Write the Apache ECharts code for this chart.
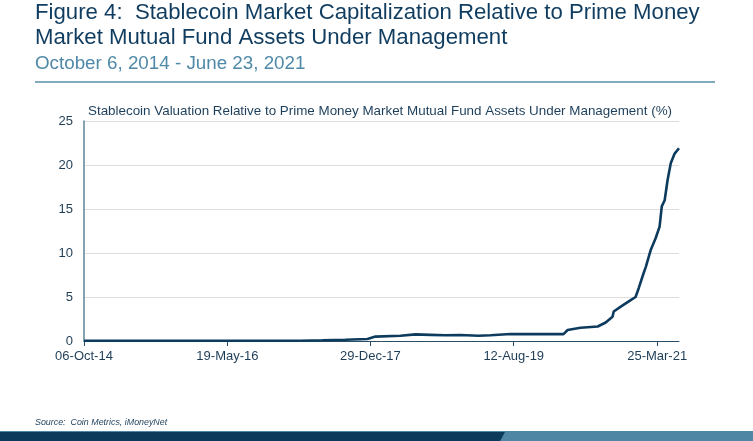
<!DOCTYPE html>
<html>
<head>
<meta charset="utf-8">
<script src="https://cdn.jsdelivr.net/npm/echarts@6/dist/echarts.min.js"></script>
<style>
html,body{margin:0;padding:0;background:#fff;}
#c{width:753px;height:441px;}
</style>
</head>
<body>
<div id="c"></div>
<script>
// Data
var dates = [
  '2014-10-06','2017-03-15','2017-06-14','2017-09-17','2017-12-17','2018-01-19',
  '2018-05-02','2018-07-03','2018-09-03','2018-11-03','2019-01-04','2019-03-20',
  '2019-05-08','2019-07-30','2020-01-11','2020-03-04','2020-03-21','2020-05-13',
  '2020-07-23','2020-08-25','2020-09-22','2020-09-27','2020-10-26','2020-12-06',
  '2020-12-26','2021-01-08','2021-01-28','2021-02-06','2021-02-26','2021-03-19',
  '2021-04-04','2021-04-13','2021-04-25','2021-05-07','2021-05-20','2021-06-05',
  '2021-06-23'
];
var values = [
  0.02, 0.03, 0.08, 0.15, 0.22, 0.50,
  0.60, 0.75, 0.70, 0.65, 0.68, 0.60,
  0.65, 0.80, 0.78, 0.78, 1.25, 1.50,
  1.65, 2.10, 2.75, 3.35, 3.90, 4.65,
  5.00, 6.00, 7.70, 8.40, 10.30, 11.70,
  13.00, 15.30, 16.00, 18.30, 20.20, 21.30,
  21.90
];
var xTickDates = ['2014-10-06','2016-05-19','2017-12-29','2019-08-12','2021-03-25'];
var yTicks = [0, 5, 10, 15, 20, 25];
var startDate = '2014-10-06';
var endDate = '2021-06-23';

var MONTHS = ['Jan','Feb','Mar','Apr','May','Jun','Jul','Aug','Sep','Oct','Nov','Dec'];
function fmt(ms){
  var d = new Date(ms);
  var dd = ('0' + d.getUTCDate()).slice(-2);
  var yy = ('0' + (d.getUTCFullYear() % 100)).slice(-2);
  return dd + '-' + MONTHS[d.getUTCMonth()] + '-' + yy;
}
var seriesData = dates.map(function(s, i){ return [Date.parse(s), values[i]]; });
var tickMs = xTickDates.map(function(s){ return Date.parse(s); });

var navy = '#0d3b5e';
var FF = '"Liberation Sans", Arial, sans-serif';
var chart = echarts.init(document.getElementById('c'), null, {renderer:'canvas'});
chart.setOption({
  animation: false,
  backgroundColor: '#ffffff',
  grid: {left: 84, right: 74, top: 121, bottom: 100, containLabel: false},
  xAxis: {
    type: 'value',
    min: Date.parse(startDate),
    max: Date.parse(endDate),
    axisLine: {show: true, lineStyle: {color: '#274d69', width: 1}},
    axisTick: {show: true, length: 5, lineStyle: {color: '#274d69'}, customValues: tickMs},
    axisLabel: {
      customValues: tickMs,
      formatter: function(v){ return fmt(v); },
      color: '#1d3d57', fontSize: 13, fontFamily: FF, margin: 9
    },
    splitLine: {show: false}
  },
  yAxis: {
    type: 'value',
    min: yTicks[0], max: yTicks[yTicks.length - 1], interval: 5,
    axisLine: {show: true, lineStyle: {color: '#5f8499', width: 1.5}},
    axisTick: {show: false},
    axisLabel: {color: '#1d3d57', fontSize: 13, fontFamily: FF, margin: 11},
    splitLine: {show: true, lineStyle: {color: '#dedede', width: 1.2}}
  },
  series: [{
    type: 'line',
    data: seriesData,
    showSymbol: false,
    symbol: 'none',
    lineStyle: {color: navy, width: 2.6},
    z: 3
  }],
  graphic: [
    {type: 'text', x: 35, y: 12.5, style: {text: 'Figure 4:  Stablecoin Market Capitalization Relative to Prime Money', font: '22.2px ' + FF, fill: '#0f3c5f', verticalAlign: 'middle'}},
    {type: 'text', x: 35, y: 37.5, style: {text: 'Market Mutual Fund Assets Under Management', font: '22.2px ' + FF, fill: '#0f3c5f', verticalAlign: 'middle'}},
    {type: 'text', x: 35, y: 63.5, style: {text: 'October 6, 2014 - June 23, 2021', font: '18.8px ' + FF, fill: '#4f89a8', verticalAlign: 'middle'}},
    {type: 'rect', shape: {x: 35, y: 81.3, width: 680, height: 1.4}, style: {fill: '#5a8fab'}},
    {type: 'text', x: 88, y: 111, style: {text: 'Stablecoin Valuation Relative to Prime Money Market Mutual Fund Assets Under Management (%)', font: '13.4px ' + FF, fill: '#1d3f5b', verticalAlign: 'middle'}},
    {type: 'text', x: 35, y: 422.5, style: {text: 'Source:  Coin Metrics, iMoneyNet', font: 'italic 8.9px ' + FF, fill: '#1d3f5b', verticalAlign: 'middle'}},
    {type: 'rect', shape: {x: 0, y: 431, width: 753, height: 10}, style: {fill: '#4f86a3'}},
    {type: 'polygon', shape: {points: [[0,432],[505,432],[500,441],[0,441]]}, style: {fill: '#0b3a5a'}}
  ]
});
</script>
</body>
</html>
